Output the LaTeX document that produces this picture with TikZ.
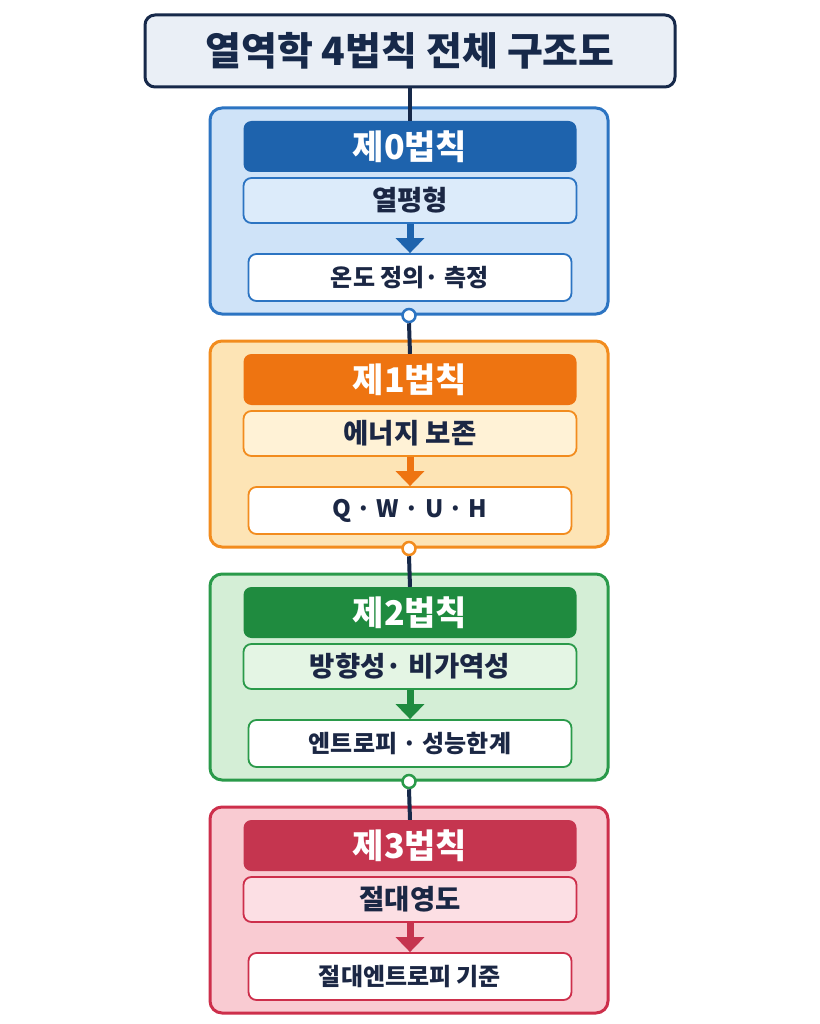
\documentclass[tikz,border=0pt]{standalone}
\usepackage{fontspec}
\setmainfont{Noto Sans CJK KR}
\usetikzlibrary{arrows.meta}
\definecolor{navy}{HTML}{17294A}
\definecolor{txt}{HTML}{1B2744}
\definecolor{titlefill}{HTML}{EAEFF6}
\definecolor{bd0}{HTML}{2C74C2}\definecolor{fl0}{HTML}{CFE3F8}\definecolor{hd0}{HTML}{1E63AD}\definecolor{on0}{HTML}{DCEBFA}
\definecolor{bd1}{HTML}{F28C1E}\definecolor{fl1}{HTML}{FDE4B5}\definecolor{hd1}{HTML}{EE7411}\definecolor{on1}{HTML}{FFF2D6}
\definecolor{bd2}{HTML}{2A9A4A}\definecolor{fl2}{HTML}{D4EED6}\definecolor{hd2}{HTML}{1F8B3F}\definecolor{on2}{HTML}{E4F5E4}
\definecolor{bd3}{HTML}{CD2F4B}\definecolor{fl3}{HTML}{F9CBD2}\definecolor{hd3}{HTML}{C5354F}\definecolor{on3}{HTML}{FCDFE4}
\begin{document}
\begin{tikzpicture}[x=1pt,y=-1pt,
  titlebox/.style={draw=navy,line width=3pt,fill=titlefill,rounded corners=10pt,minimum width=530pt,minimum height=72pt,inner sep=0pt,text=navy,font=\fontsize{39}{46}\selectfont\bfseries},
  panel/.style={line width=3pt,rounded corners=12pt,minimum width=398pt,minimum height=206pt,inner sep=0pt},
  headbox/.style={rounded corners=8pt,minimum width=333pt,minimum height=51pt,inner sep=0pt,text=white,font=\fontsize{34}{40}\selectfont\bfseries},
  onebox/.style={line width=1.8pt,rounded corners=8pt,minimum width=333pt,minimum height=45pt,inner sep=0pt,text=txt,font=\fontsize{27.5}{32}\selectfont\bfseries},
  twobox/.style={line width=1.8pt,fill=white,rounded corners=8pt,minimum width=323pt,minimum height=47pt,inner sep=0pt,text=txt,font=\fontsize{24}{30}\selectfont\bfseries},
  conn/.style={draw=navy,line width=4pt},
  dotnode/.style={circle,fill=white,line width=2.5pt,minimum size=13pt,inner sep=0pt},
  flowarrow/.style={line width=7pt,-{Triangle[length=15pt,width=28pt]}}
]
\useasboundingbox[fill=white] (0,0) rectangle (819,1024);
\node[titlebox] (title) at (410,51) {열역학 4법칙 전체 구조도};
\foreach \k/\head/\one/\two in {0/제0법칙/열평형/온도 정의· 측정,1/제1법칙/에너지 보존/Q · W · U · H,2/제2법칙/방향성· 비가역성/엔트로피 · 성능한계,3/제3법칙/절대영도/절대엔트로피 기준}{
  \pgfmathsetmacro\T{108+233*\k}
  \node[panel,draw=bd\k,fill=fl\k] (p\k) at (409,\T+103) {};
  \node[headbox,fill=hd\k] (h\k) at (410,\T+38.5) {\head};
  \node[onebox,draw=bd\k,fill=on\k] (a\k) at (410,\T+92.5) {\one};
  \node[twobox,draw=bd\k] (b\k) at (410,\T+169.5) {\two};
  \draw[flowarrow,draw=hd\k,fill=hd\k] (a\k.south) -- (b\k.north);
}
\draw[conn] (title.south) -- (h0.north);
\foreach \k/\n in {0/1,1/2,2/3}{
  \node[dotnode,draw=bd\k] (c\k) at (p\k.south) {};
  \draw[conn] (c\k.south) -- (h\n.north);
}
\end{tikzpicture}
\end{document}
